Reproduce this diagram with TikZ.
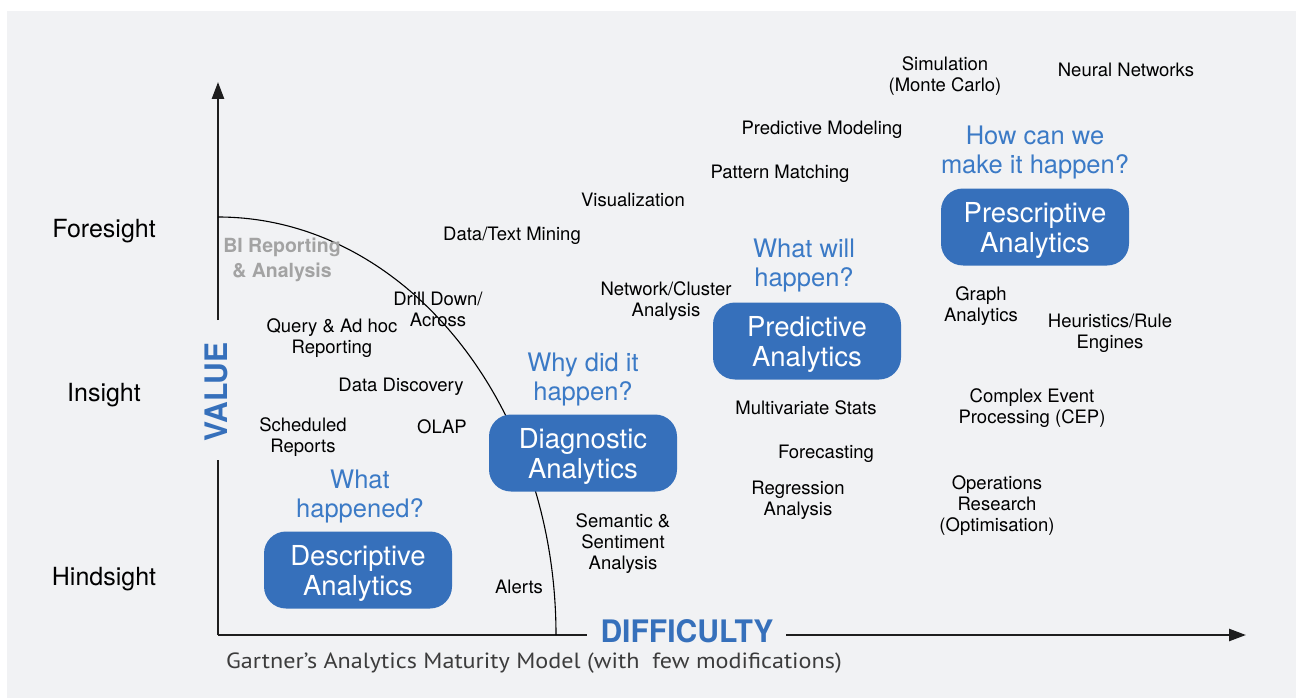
\documentclass[tikz,border=0pt]{standalone}
\usepackage{fontspec}
\setmainfont{TeX Gyre Heros}
\newfontfamily\capfont{PT Sans}
\usetikzlibrary{arrows.meta}
\definecolor{bg}{HTML}{F1F2F4}
\definecolor{boxblue}{HTML}{3670BB}
\definecolor{qblue}{HTML}{3B7AC6}
\definecolor{bigray}{HTML}{A3A3A3}
\definecolor{axiscol}{HTML}{1E1E1E}
\definecolor{capgray}{HTML}{3C3C3C}
\begin{document}
\begin{tikzpicture}[x=1pt,y=-1pt,
 lbl/.style={font=\fontsize{18.5}{21}\selectfont, align=center, inner sep=0pt, yshift=-2.5pt},
 ques/.style={font=\fontsize{25.5}{29}\selectfont, text=qblue, align=center, inner sep=0pt, yshift=-2.5pt},
 level/.style={font=\fontsize{25}{30}\selectfont, inner sep=0pt, yshift=-2.5pt},
 abox/.style={fill=boxblue, text=white, rounded corners=22pt, minimum width=188pt, minimum height=77pt, align=center, inner sep=0pt, text depth=0pt, font=\fontsize{27.5}{30}\selectfont},
 axisline/.style={draw=axiscol, line width=2.5pt},
 arrowtip/.style={-{Triangle[length=17pt,width=12pt]}},
 bigword/.style={text=boxblue, inner sep=0pt, font=\bfseries\fontsize{31}{31}\selectfont}
]
\useasboundingbox (0,0) rectangle (1296,698);
\fill[bg] (7,11) rectangle (1296,698);

% axes
\coordinate (yb) at (218,635);
\coordinate (yg2) at (218,460);
\coordinate (yg1) at (218,320);
\coordinate (yt) at (218,82);
\coordinate (xe1) at (587,635);
\coordinate (xs2) at (786,635);
\coordinate (xt) at (1246,635);
\draw[axisline] (yb) -- (yg2);
\draw[axisline, arrowtip] (yg1) -- (yt);
\draw[axisline] (yb) -- (xe1);
\draw[axisline, arrowtip] (xs2) -- (xt);

% arc
\coordinate (arcs) at (218,217);
\draw[line width=1.1pt, black] (arcs) arc[start angle=90, end angle=0, x radius=338pt, y radius=418pt];

\node[bigword, rotate=90] (value) at (216,392) {\scalebox{0.97}[1]{VALUE}};
\node[bigword] (diff) at (687,631) {\scalebox{0.97}[1]{DIFFICULTY}};
\node[anchor=west, inner sep=0pt, text=capgray, font=\capfont\fontsize{22}{22}\selectfont] (cap) at (226,663) {\scalebox{1.098}[1]{Gartner’s Analytics Maturity Model (with\ \ few modifications)}};

% levels
\node[level] (fore) at (104,229) {Foresight};
\node[level] (ins) at (104,393) {Insight};
\node[level] (hind) at (104,577) {Hindsight};

% descriptive region
\node[inner sep=0pt, align=center, text=bigray, yshift=-3pt, font=\bfseries\fontsize{19.5}{25}\selectfont] (bi) at (282,257) {BI Reporting\\\& Analysis};
\node[lbl] (drill) at (438,307) {Drill Down/\\Across};
\node[lbl] (query) at (332,336) {Query \& Ad hoc\\Reporting};
\node[lbl] (disc) at (401,384) {Data Discovery};
\node[lbl] (sched) at (303,435) {Scheduled\\Reports};
\node[lbl] (olap) at (442,424) {OLAP};
\node[ques] (q1) at (360,494) {What\\happened?};
\node[abox] (desc) at (358,570) {Descriptive\\Analytics};
\node[lbl] (alerts) at (519,584) {Alerts};

% diagnostic
\node[ques] (q2) at (583,377) {Why did it\\happen?};
\node[abox] (diag) at (583,453) {Diagnostic\\Analytics};
\node[lbl] (sem) at (623,541) {Semantic \&\\Sentiment\\Analysis};
\node[lbl] (mining) at (512,233) {Data/Text Mining};
\node[lbl] (vis) at (633,197) {Visualization};
\node[lbl] (net) at (666,299) {Network/Cluster\\Analysis};

% predictive
\node[lbl] (pmod) at (822,127) {Predictive Modeling};
\node[lbl] (patt) at (780,171) {Pattern Matching};
\node[ques] (q3) at (804,263) {What will\\happen?};
\node[abox] (pred) at (807,341) {Predictive\\Analytics};
\node[lbl] (mult) at (806,405) {Multivariate Stats};
\node[lbl] (fore2) at (826,451) {Forecasting};
\node[lbl] (regr) at (798,498) {Regression\\Analysis};

% prescriptive
\node[lbl] (sim) at (945,74) {Simulation\\(Monte Carlo)};
\node[lbl] (nn) at (1126,67) {Neural Networks};
\node[ques] (q4) at (1035,150) {How can we\\make it happen?};
\node[abox] (presc) at (1035,227) {Prescriptive\\Analytics};
\node[lbl] (graph) at (981,304) {Graph\\Analytics};
\node[lbl] (heur) at (1110,331) {Heuristics/Rule\\Engines};
\node[lbl] (cep) at (1032,406) {Complex Event\\Processing (CEP)};
\node[lbl] (ops) at (997,503) {Operations\\Research\\(Optimisation)};
\end{tikzpicture}
\end{document}
